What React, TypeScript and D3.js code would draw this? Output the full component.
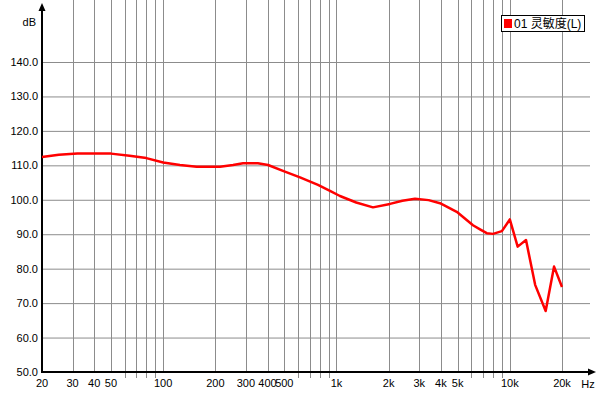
import { useEffect, useRef } from 'react';
import * as d3 from 'd3';

// frequency response (Hz / dB)
const freqs = [20, 25, 32, 40, 50, 64, 80, 100, 125, 156, 213, 253, 289, 352, 403, 491, 616, 782, 917, 1047, 1300, 1624, 2036, 2400, 2838, 3400, 3955, 4940, 6130, 6730, 7360, 8000, 9000, 10000, 11100, 12400, 14000, 16100, 18000, 20000];
const levels = [112.4, 113.1, 113.4, 113.4, 113.4, 112.8, 112.1, 110.8, 110.1, 109.6, 109.6, 110.1, 110.6, 110.6, 110.1, 108.4, 106.5, 104.3, 102.6, 101.1, 99.2, 97.8, 98.8, 99.7, 100.3, 99.9, 99.0, 96.5, 92.6, 91.4, 90.3, 90.1, 90.9, 94.3, 86.4, 88.3, 75.3, 67.7, 80.6, 74.7];

const yTicks = [50, 60, 70, 80, 90, 100, 110, 120, 130, 140];
const xGrid = [20, 30, 40, 50, 60, 70, 80, 90, 100, 200, 300, 400, 500, 600, 700, 800, 900, 1000, 2000, 3000, 4000, 5000, 6000, 7000, 8000, 9000, 10000, 20000];
const xLabels = [20, 30, 40, 50, 100, 200, 300, 400, 500, 1000, 2000, 3000, 4000, 5000, 10000, 20000];
const seriesName = '01 灵敏度(L)';

function App() {
    const svgRef = useRef<SVGSVGElement>(null);

    useEffect(() => {
        const width = 600;
        const height = 400;
        const font = '"Liberation Sans", Arial, sans-serif';
        d3.select(svgRef.current).selectAll('*').remove();

        const svg = d3.select(svgRef.current)
            .attr('width', width)
            .attr('height', height)
            .style('background', '#fff');

        const x = d3.scaleLog().domain([20, 20000]).range([42, 562]);
        const y = d3.scaleLinear().domain([50, 140]).range([372, 62]);
        const gridColor = '#8c8c8c';

        // horizontal grid
        svg.append('g').selectAll('line')
            .data(yTicks.slice(1))
            .join('line')
            .attr('x1', 42).attr('x2', 590)
            .attr('y1', d => y(d) + 0.5).attr('y2', d => y(d) + 0.5)
            .attr('stroke', gridColor).attr('stroke-width', 1);

        // vertical grid, unlabeled lines poke below the axis
        svg.append('g').selectAll('line')
            .data(xGrid.slice(1))
            .join('line')
            .attr('x1', d => Math.round(x(d)) + 0.5).attr('x2', d => Math.round(x(d)) + 0.5)
            .attr('y1', 0)
            .attr('y2', d => xLabels.includes(d) ? 372 : 378)
            .attr('stroke', gridColor).attr('stroke-width', 1);

        // y labels
        svg.append('g').selectAll('text')
            .data(yTicks)
            .join('text')
            .attr('x', 38).attr('y', d => y(d) + 4)
            .attr('text-anchor', 'end')
            .attr('font-family', font).attr('font-size', 11)
            .text(d => d.toFixed(1));

        svg.append('text')
            .attr('x', 36).attr('y', 26).attr('text-anchor', 'end')
            .attr('font-family', font).attr('font-size', 11)
            .text('dB');

        // x labels
        svg.append('g').selectAll('text')
            .data(xLabels)
            .join('text')
            .attr('x', d => x(d)).attr('y', 387)
            .attr('text-anchor', 'middle')
            .attr('font-family', font).attr('font-size', 11)
            .text(d => d >= 1000 ? `${d / 1000}k` : `${d}`);

        svg.append('text')
            .attr('x', 588).attr('y', 388).attr('text-anchor', 'middle')
            .attr('font-family', font).attr('font-size', 11)
            .text('Hz');

        // axes with arrow heads
        svg.append('line')
            .attr('x1', 42).attr('x2', 42).attr('y1', 8).attr('y2', 373)
            .attr('stroke', '#000').attr('stroke-width', 2);
        svg.append('path')
            .attr('d', 'M42,3 L38.5,11 L45.5,11 Z').attr('fill', '#000');
        svg.append('line')
            .attr('x1', 41).attr('x2', 590).attr('y1', 372).attr('y2', 372)
            .attr('stroke', '#000').attr('stroke-width', 2);
        svg.append('path')
            .attr('d', 'M596,372 L588,368.5 L588,375.5 Z').attr('fill', '#000');

        // response curve
        const line = d3.line<number>()
            .x((_, i) => x(freqs[i]))
            .y(d => y(d))
            .curve(d3.curveLinear);

        svg.append('path')
            .datum(levels)
            .attr('d', line)
            .attr('fill', 'none')
            .attr('stroke', '#ff0000')
            .attr('stroke-width', 2.5)
            .attr('stroke-linejoin', 'round');

        // legend
        const legend = svg.append('g');
        legend.append('rect')
            .attr('x', 501.5).attr('y', 15.5).attr('width', 83).attr('height', 16)
            .attr('fill', '#fff').attr('stroke', '#000');
        legend.append('rect')
            .attr('x', 504).attr('y', 19).attr('width', 8).attr('height', 9)
            .attr('fill', '#ff0000');
        legend.append('text')
            .attr('x', 514).attr('y', 28)
            .attr('font-family', '"Liberation Sans", "Noto Sans CJK SC", sans-serif')
            .attr('font-size', 12)
            .text(seriesName);
    }, []);

    return (
        <div style={{ position: 'absolute', left: 0, top: 0 }}>
            <svg ref={svgRef} style={{ display: 'block' }} />
        </div>
    );
}

export default App;
